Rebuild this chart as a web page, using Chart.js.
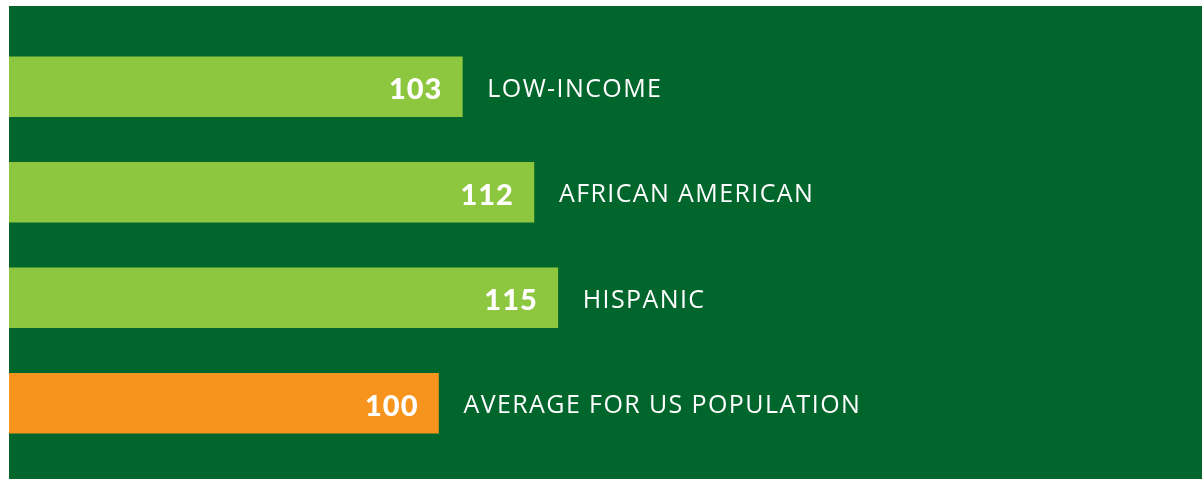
<!DOCTYPE html>
<html>
<head>
<meta charset="utf-8">
<script src="https://cdn.jsdelivr.net/npm/chart.js@4/dist/chart.umd.min.js"></script>
<style>
  html, body { margin: 0; padding: 0; background: #fff; }
  #wrap { width: 1202px; height: 479px; position: relative; }
</style>
</head>
<body>
<div id="wrap"><canvas id="myChart" width="1202" height="479"></canvas></div>
<script>
  'use strict'

  // groups and index values (US average = 100)
  var categories = ['LOW-INCOME', 'AFRICAN AMERICAN', 'HISPANIC', 'AVERAGE FOR US POPULATION']
  var values = [103, 112, 115, 100]
  var barColors = ['#8dc63f', '#8dc63f', '#8dc63f', '#f7941d']

  // dark green panel behind the bars
  var panel = {
    id: 'panel',
    beforeDraw: function (chart) {
      var c = chart.ctx
      c.save()
      c.fillStyle = '#00662c'
      c.fillRect(9, 6, chart.width - 9, chart.height - 6)
      c.restore()
    }
  }

  // value inside the bar, group name after it
  var labels = {
    id: 'labels',
    afterDatasetsDraw: function (chart) {
      var c = chart.ctx
      var meta = chart.getDatasetMeta(0)
      c.save()
      c.fillStyle = '#ffffff'
      c.textBaseline = 'middle'
      meta.data.forEach(function (bar, i) {
        c.font = '900 29px Lato'
        c.letterSpacing = '1px'
        c.textAlign = 'right'
        c.fillText(String(values[i]), bar.x - 20, bar.y + 3)
        c.font = '500 25px "Open Sans"'
        c.letterSpacing = '1.4px'
        c.textAlign = 'left'
        c.fillText(categories[i], bar.x + 25, bar.y + 3)
      })
      c.restore()
    }
  }

  new Chart(document.getElementById('myChart'), {
    type: 'bar',
    data: {
      labels: categories,
      datasets: [{
        data: values,
        backgroundColor: barColors,
        borderWidth: 0,
        barThickness: 60
      }]
    },
    options: {
      indexAxis: 'y',
      responsive: false,
      animation: false,
      layout: { padding: { left: 9, right: 0, top: 34, bottom: 23 } },
      scales: {
        x: { display: false, min: 46, max: 196 },
        y: { display: false }
      },
      plugins: {
        legend: { display: false },
        tooltip: { enabled: false }
      }
    },
    plugins: [panel, labels]
  })
</script>
</body>
</html>
